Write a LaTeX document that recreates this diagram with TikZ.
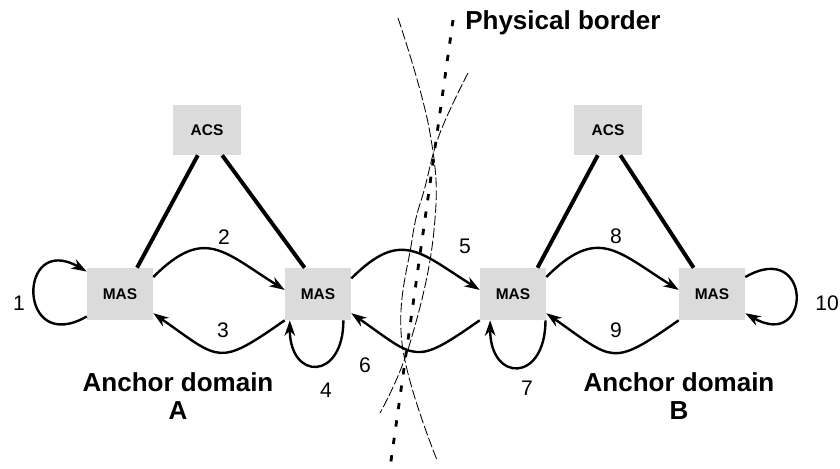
\documentclass[tikz,border=0pt]{standalone}
\usepackage{fontspec}
\setmainfont{Liberation Sans}
\usetikzlibrary{arrows.meta, positioning}

\begin{document}
\begin{tikzpicture}[
    x=0.025cm, y=0.025cm,
    agent/.style={
      rectangle,
      minimum height=1.3cm,
      minimum width=1.65cm,
      fill=black!14,
      inner sep=0pt,
      font=\fontsize{11}{12}\selectfont\bfseries
    },
    acs/.style={
      agent,
      minimum width=1.72cm,
      minimum height=1.25cm
    },
    link/.style={
      line width=2.8pt
    },
    msg/.style={
      -{Stealth[length=11pt,width=7.5pt]},
      line width=1.7pt
    },
    num/.style={
      font=\fontsize{15}{15}\selectfont,
      inner sep=0pt
    },
    domlabel/.style={
      font=\fontsize{18.5}{20}\selectfont\bfseries,
      align=center,
      inner sep=0pt
    },
    border/.style={
      line width=2pt,
      dash pattern=on 4.5pt off 8pt
    },
    guide/.style={
      line width=0.6pt,
      dash pattern=on 7pt off 2pt
    }
  ]

  \useasboundingbox (0,0) rectangle (840,468);

  % Nodes
  \node[acs] (acsA) at (207,338) {ACS};
  \node[acs] (acsB) at (608,338) {ACS};
  \node[agent] (mas1) at (120,174) {MAS};
  \node[agent] (mas2) at (318,174) {MAS};
  \node[agent] (mas3) at (513,174) {MAS};
  \node[agent] (mas4) at (712,174) {MAS};

  % Links to the ACS
  \draw[link] (acsA.-110) -- (mas1.57);
  \draw[link] (acsA.-59) -- (mas2.117);
  \draw[link] (acsB.-112) -- (mas3.47);
  \draw[link] (acsB.-64) -- (mas4.125);

  % Border
  \draw[border] (453,448) -- (390,0);
  \draw[guide] plot[smooth, tension=0.7] coordinates {(398,450) (430,335) (434,238) (410,125) (380,55)};
  \draw[guide] plot[smooth, tension=0.7] coordinates {(468,395) (440,335) (425,281) (412,228) (402,125) (437,8)};
  \node[anchor=base west, inner sep=0pt, font=\fontsize{18.5}{20}\selectfont\bfseries] (border) at (465,438) {Physical border};

  % Messages
  \draw[msg] (mas1.-146) to[out=-150, in=150, looseness=4.6] (mas1.146);
  \draw[msg] (mas1.27) to[out=45, in=148, looseness=1.4] (mas2.173);
  \draw[msg] (mas2.south west) to[out=-145, in=-35, looseness=1.6] (mas1.-30);
  \draw[msg] (mas2.-46) to[out=-90, in=-90, looseness=2.9] (mas2.-137);
  \draw[msg] (mas2.25) to[out=45, in=148, looseness=1.4] (mas3.173);
  \draw[msg] (mas3.south west) to[out=-145, in=-35, looseness=1.6] (mas2.-30);
  \draw[msg] (mas3.-39) to[out=-90, in=-90, looseness=2.9] (mas3.-131);
  \draw[msg] (mas3.27) to[out=45, in=148, looseness=1.4] (mas4.173);
  \draw[msg] (mas4.south west) to[out=-145, in=-35, looseness=1.6] (mas3.-30);
  \draw[msg] (mas4.27) to[out=30, in=-30, looseness=5.5] (mas4.-30);

  % Numbers
  \node[num] (n1) at (19,165) {1};
  \node[num] (n2) at (224,231) {2};
  \node[num] (n3) at (223,138) {3};
  \node[num] (n4) at (326,78) {4};
  \node[num] (n5) at (465,222) {5};
  \node[num] (n6) at (365,103) {6};
  \node[num] (n7) at (527,80) {7};
  \node[num] (n8) at (616,232) {8};
  \node[num] (n9) at (616,138) {9};
  \node[num, anchor=west] (n10) at (815,165) {10};

  % Domains
  \node[domlabel] (domA) at (178,72) {Anchor domain\\A};
  \node[domlabel] (domB) at (679,72) {Anchor domain\\B};

\end{tikzpicture}
\end{document}
